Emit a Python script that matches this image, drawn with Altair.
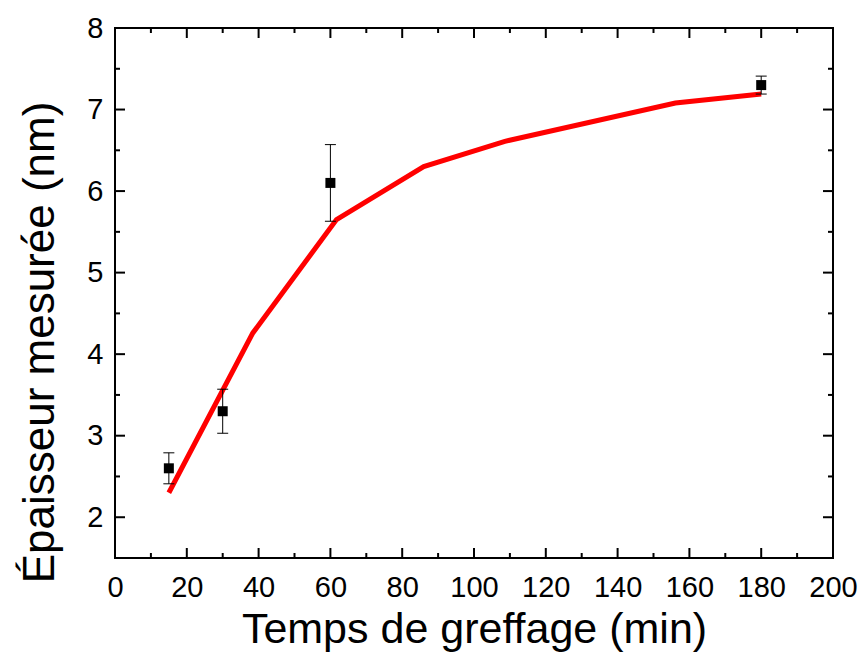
import altair as alt
import pandas as pd

# Measured points (time in min, thickness in nm, error half-width)
time_pts = [15, 30, 60, 180]
thick_pts = [2.6, 3.3, 6.1, 7.3]
thick_err = [0.19, 0.27, 0.47, 0.11]

# Red model curve
fit_time = [15, 38.4, 61.7, 86, 108.6, 156.1, 180]
fit_thick = [2.30, 4.26, 5.65, 6.30, 6.61, 7.08, 7.19]

# Axis ticks
x_major = [0, 20, 40, 60, 80, 100, 120, 140, 160, 180, 200]
x_minor = [10, 30, 50, 70, 90, 110, 130, 150, 170, 190]
y_major = [2, 3, 4, 5, 6, 7, 8]
y_minor = [2.5, 3.5, 4.5, 5.5, 6.5, 7.5]

W, H = 718, 530
FONT = "Liberation Sans"

pts = pd.DataFrame({
    "x": time_pts,
    "y": thick_pts,
    "lo": [v - e for v, e in zip(thick_pts, thick_err)],
    "hi": [v + e for v, e in zip(thick_pts, thick_err)],
})
fit = pd.DataFrame({"x": fit_time, "y": fit_thick})

xscale = alt.Scale(domain=[0, 200], nice=False, zero=False)
yscale = alt.Scale(domain=[1.5, 8], nice=False, zero=False)

xaxis = alt.Axis(values=x_major, ticks=False, domain=False, grid=False,
                 labelFont=FONT, labelFontSize=29, labelColor="black",
                 labelPadding=15, labelFlush=False, labelOverlap=False,
                 title="Temps de greffage (min)", titleFont=FONT, titleFontSize=43,
                 titleFontWeight="normal", titleColor="black", titlePadding=6)
yaxis = alt.Axis(values=y_major, ticks=False, domain=False, grid=False,
                 labelFont=FONT, labelFontSize=29, labelColor="black",
                 labelPadding=12, labelFlush=False, labelOverlap=False,
                 title="Épaisseur mesurée (nm)", titleFont=FONT, titleFontSize=44,
                 titleFontWeight="normal", titleColor="black", titlePadding=24,
                 titleY=314)

X = alt.X("x:Q", scale=xscale, axis=xaxis)
Y = alt.Y("y:Q", scale=yscale, axis=yaxis)

line = alt.Chart(fit).mark_line(color="#ff0000", strokeWidth=5).encode(x=X, y=Y)

err_rule = alt.Chart(pts).mark_rule(color="black", strokeWidth=1).encode(
    x=X, y=alt.Y("lo:Q", scale=yscale, axis=yaxis), y2="hi:Q")
cap_lo = alt.Chart(pts).mark_tick(color="black", orient="horizontal", size=11, thickness=1, opacity=1).encode(
    x=X, y=alt.Y("lo:Q", scale=yscale, axis=yaxis))
cap_hi = alt.Chart(pts).mark_tick(color="black", orient="horizontal", size=11, thickness=1, opacity=1).encode(
    x=X, y=alt.Y("hi:Q", scale=yscale, axis=yaxis))
squares = alt.Chart(pts).mark_square(color="black", size=100, opacity=1, filled=True).encode(x=X, y=Y)

xmaj = pd.DataFrame({"x": x_major})
xmin = pd.DataFrame({"x": x_minor})
ymaj = pd.DataFrame({"y": y_major})
ymin = pd.DataFrame({"y": y_minor})

def xticks(df, y0, y1):
    return alt.Chart(df).mark_rule(color="black", strokeWidth=2).encode(
        x=X, y=alt.value(y0), y2=alt.value(y1))

def yticks(df, x0, x1):
    return alt.Chart(df).mark_rule(color="black", strokeWidth=2).encode(
        y=Y, x=alt.value(x0), x2=alt.value(x1))

tick_layers = [
    xticks(xmaj, H, H - 10), xticks(xmin, H, H - 5),
    xticks(xmaj, 0, 10), xticks(xmin, 0, 5),
    yticks(ymaj, 0, 10), yticks(ymin, 0, 5),
    yticks(ymaj, W, W - 10), yticks(ymin, W, W - 5),
]

chart = alt.layer(
    line, err_rule, cap_lo, cap_hi, squares, *tick_layers
).properties(
    width=W, height=H,
    autosize=alt.AutoSizeParams(type="none"),
    padding={"left": 107, "top": 20, "right": 26, "bottom": 95},
    background="white",
).configure_view(stroke="black", strokeWidth=2)

chart.save("out.html", embed_options={"renderer": "svg", "actions": False})
